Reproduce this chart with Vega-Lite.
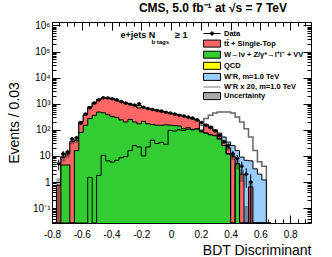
{
"$schema": "https://vega.github.io/schema/vega-lite/v6.json",
"width": 259, "height": 201,
"autosize": {"type": "none"},
"padding": {"left": 52, "top": 22, "right": 21, "bottom": 34},
"background": "white",
"config": {
  "view": {"stroke": "black", "strokeWidth": 1},
  "font": "Liberation Sans",
  "title": {"fontSize": 12, "fontWeight": "bold", "font": "Liberation Sans", "color": "black"},
  "axis": {"grid": false, "domain": false, "tickColor": "black", "labelColor": "black", "titleColor": "black", "labelFont": "Liberation Sans", "titleFont": "Liberation Sans", "labelFontSize": 10, "labelOverlap": false, "labelFlush": false, "tickWidth": 1}
},
"title": {"text": "CMS, 5.0 fb\u207b\u00b9 at \u221as = 7 TeV", "anchor": "end", "frame": "group", "fontSize": 12, "fontWeight": "bold", "font": "Liberation Sans", "offset": 5, "dx": -24, "color": "black"},
"datasets": {
"h": [
{"x0":-0.8,"x1":-0.77,"xc":-0.785,"g":0.001,"n":0.001,"r":0.001,"b":0.001,"d":0,"dl":0,"dh":0,"ul":0,"uh":0},
{"x0":-0.77,"x1":-0.74,"xc":-0.755,"g":0.001,"n":0.001,"r":0.75,"b":0.75,"d":5,"dl":2.8,"dh":7.2,"ul":0.001,"uh":1.4},
{"x0":-0.74,"x1":-0.71,"xc":-0.725,"g":4.5,"n":0.001,"r":9,"b":9,"d":12,"dl":8.5,"dh":15.5,"ul":6,"uh":12},
{"x0":-0.71,"x1":-0.68,"xc":-0.695,"g":4.5,"n":0.001,"r":12,"b":12,"d":14,"dl":10.3,"dh":17.7,"ul":8.5,"uh":15.5},
{"x0":-0.68,"x1":-0.65,"xc":-0.665,"g":0.001,"n":0.001,"r":35,"b":35,"d":45,"dl":38,"dh":52,"ul":28,"uh":42},
{"x0":-0.65,"x1":-0.62,"xc":-0.635,"g":16,"n":0.001,"r":40,"b":40,"d":50,"dl":43,"dh":57,"ul":32,"uh":48},
{"x0":-0.62,"x1":-0.59,"xc":-0.605,"g":80,"n":0.001,"r":200,"b":200,"d":180,"dl":167,"dh":193,"ul":175,"uh":225},
{"x0":-0.59,"x1":-0.56,"xc":-0.575,"g":150,"n":0.001,"r":380,"b":380,"d":400,"dl":380,"dh":420,"ul":340,"uh":420},
{"x0":-0.56,"x1":-0.53,"xc":-0.545,"g":270,"n":1.5,"r":750,"b":750,"d":700,"dl":674,"dh":726,"ul":675,"uh":825},
{"x0":-0.53,"x1":-0.5,"xc":-0.515,"g":360,"n":0.001,"r":1100,"b":1100,"d":1050,"dl":1018,"dh":1082,"ul":990,"uh":1210},
{"x0":-0.5,"x1":-0.47,"xc":-0.485,"g":480,"n":1.8,"r":1450,"b":1450,"d":1400,"dl":1363,"dh":1437,"ul":1305,"uh":1595},
{"x0":-0.47,"x1":-0.44,"xc":-0.455,"g":450,"n":10.5,"r":1650,"b":1650,"d":1700,"dl":1659,"dh":1741,"ul":1485,"uh":1815},
{"x0":-0.44,"x1":-0.41,"xc":-0.425,"g":380,"n":6.5,"r":1700,"b":1700,"d":1650,"dl":1609,"dh":1691,"ul":1530,"uh":1870},
{"x0":-0.41,"x1":-0.38,"xc":-0.395,"g":320,"n":5.8,"r":1550,"b":1550,"d":1550,"dl":1511,"dh":1589,"ul":1395,"uh":1705},
{"x0":-0.38,"x1":-0.35,"xc":-0.365,"g":300,"n":6.8,"r":1350,"b":1350,"d":1400,"dl":1363,"dh":1437,"ul":1215,"uh":1485},
{"x0":-0.35,"x1":-0.32,"xc":-0.335,"g":240,"n":8.6,"r":1200,"b":1200,"d":1200,"dl":1165,"dh":1235,"ul":1080,"uh":1320},
{"x0":-0.32,"x1":-0.29,"xc":-0.305,"g":200,"n":9.5,"r":1080,"b":1080,"d":1050,"dl":1018,"dh":1082,"ul":972,"uh":1188},
{"x0":-0.29,"x1":-0.26,"xc":-0.275,"g":250,"n":16,"r":960,"b":960,"d":950,"dl":919,"dh":981,"ul":864,"uh":1056},
{"x0":-0.26,"x1":-0.23,"xc":-0.245,"g":200,"n":25,"r":870,"b":870,"d":880,"dl":850,"dh":910,"ul":783,"uh":957},
{"x0":-0.23,"x1":-0.2,"xc":-0.215,"g":170,"n":22,"r":700,"q":850,"b":850,"d":1000,"dl":968,"dh":1032,"ul":765,"uh":935},
{"x0":-0.2,"x1":-0.17,"xc":-0.185,"g":210,"n":10,"r":720,"b":720,"d":730,"dl":703,"dh":757,"ul":648,"uh":792},
{"x0":-0.17,"x1":-0.14,"xc":-0.155,"g":170,"n":22,"r":650,"b":650,"d":660,"dl":634,"dh":686,"ul":585,"uh":715},
{"x0":-0.14,"x1":-0.11,"xc":-0.125,"g":160,"n":40,"r":600,"b":600,"d":600,"dl":575,"dh":625,"ul":540,"uh":660},
{"x0":-0.11,"x1":-0.08,"xc":-0.095,"g":150,"n":30,"r":560,"b":560,"d":550,"dl":527,"dh":573,"ul":504,"uh":616},
{"x0":-0.08,"x1":-0.05,"xc":-0.065,"g":150,"n":33,"r":510,"b":510,"d":520,"dl":497,"dh":543,"ul":459,"uh":561},
{"x0":-0.05,"x1":-0.02,"xc":-0.035,"g":155,"n":28,"r":470,"b":470,"d":470,"dl":448,"dh":492,"ul":423,"uh":517},
{"x0":-0.02,"x1":0.01,"xc":-0.005,"g":150,"n":95,"r":430,"b":430,"d":440,"dl":419,"dh":461,"ul":387,"uh":473},
{"x0":0.01,"x1":0.04,"xc":0.025,"g":145,"n":90,"r":400,"b":400,"d":400,"dl":380,"dh":420,"ul":360,"uh":440},
{"x0":0.04,"x1":0.07,"xc":0.055,"g":140,"n":100,"r":370,"b":370,"d":360,"dl":341,"dh":379,"ul":333,"uh":407},
{"x0":0.07,"x1":0.1,"xc":0.085,"g":110,"n":95,"r":340,"b":340,"d":340,"dl":322,"dh":358,"ul":306,"uh":374},
{"x0":0.1,"x1":0.13,"xc":0.115,"g":120,"n":105,"r":300,"b":300,"d":310,"dl":292,"dh":328,"ul":270,"uh":330},
{"x0":0.13,"x1":0.16,"xc":0.145,"g":105,"n":100,"r":270,"b":270,"d":280,"dl":263,"dh":297,"ul":243,"uh":297},
{"x0":0.16,"x1":0.19,"xc":0.175,"g":110,"n":108,"r":230,"b":230,"d":240,"dl":224,"dh":256,"ul":207,"uh":253},
{"x0":0.19,"x1":0.22,"xc":0.205,"g":85,"n":85,"r":90,"b":98,"w":150,"d":190,"dl":176,"dh":204,"ul":81,"uh":99},
{"x0":0.22,"x1":0.25,"xc":0.235,"g":75,"n":75,"r":150,"b":163,"w":270,"d":150,"dl":138,"dh":162,"ul":135,"uh":165},
{"x0":0.25,"x1":0.28,"xc":0.265,"g":65,"n":65,"r":120,"b":138,"w":360,"d":120,"dl":109,"dh":131,"ul":108,"uh":132},
{"x0":0.28,"x1":0.31,"xc":0.295,"g":60,"n":60,"r":95,"b":100,"w":440,"d":90,"dl":80.5,"dh":99.5,"ul":85,"uh":105},
{"x0":0.31,"x1":0.34,"xc":0.325,"g":45,"n":45,"r":65,"b":75,"w":480,"d":60,"dl":52.3,"dh":67.7,"ul":58,"uh":72},
{"x0":0.34,"x1":0.37,"xc":0.355,"g":25,"n":25,"r":35,"b":53,"w":480,"d":35,"dl":29.1,"dh":40.9,"ul":30,"uh":40},
{"x0":0.37,"x1":0.4,"xc":0.385,"g":12,"n":12,"r":20,"b":34,"w":480,"d":25,"dl":20,"dh":30,"ul":16,"uh":24},
{"x0":0.4,"x1":0.43,"xc":0.415,"g":0.001,"n":0.001,"r":10,"b":25,"w":440,"d":12,"dl":8.5,"dh":15.5,"ul":7,"uh":13},
{"x0":0.43,"x1":0.46,"xc":0.445,"g":5,"n":5,"r":5,"b":16,"w":310,"d":8,"dl":5.2,"dh":10.8,"ul":3,"uh":7},
{"x0":0.46,"x1":0.49,"xc":0.475,"g":0.001,"n":0.001,"r":2,"b":9,"w":200,"d":4,"dl":2,"dh":6,"ul":1,"uh":3},
{"x0":0.49,"x1":0.52,"xc":0.505,"g":0.001,"n":0.001,"r":0.001,"b":6.8,"w":110,"d":2,"dl":0.6,"dh":3.4,"ul":0.001,"uh":0.12},
{"x0":0.52,"x1":0.55,"xc":0.535,"g":0.001,"n":0.001,"r":0.65,"b":6.5,"w":53,"d":1,"dl":0.001,"dh":2,"ul":0.001,"uh":1},
{"x0":0.55,"x1":0.58,"xc":0.565,"g":0.001,"n":0.001,"r":0.001,"b":3.2,"w":16,"d":0,"dl":0,"dh":0,"ul":0,"uh":0},
{"x0":0.58,"x1":0.61,"xc":0.595,"g":0.001,"n":0.001,"r":0.001,"b":2,"w":6,"d":0,"dl":0,"dh":0,"ul":0,"uh":0},
{"x0":0.61,"x1":0.64,"xc":0.625,"g":0.001,"n":0.001,"r":0.001,"b":1.2,"w":4,"d":0,"dl":0,"dh":0,"ul":0,"uh":0},
{"x0":0.64,"x1":0.67,"xc":0.655,"g":0.001,"n":0.001,"r":0.001,"b":0.001,"w":0.001,"d":0,"dl":0,"dh":0,"ul":0,"uh":0},
{"x0":0.67,"x1":0.7,"xc":0.685,"g":0.001,"n":0.001,"r":0.001,"b":0.001,"d":0,"dl":0,"dh":0,"ul":0,"uh":0}
],
"leg": [
{"c": "Data"},
{"c": "tt\u0304 + Single-Top"},
{"c": "W\u2192l\u03bd + Z/\u03b3*\u2192l\u207al\u207b + VV"},
{"c": "QCD"},
{"c": "W'R, m=1.0 TeV"},
{"c": "W'R x 20, m=1.0 TeV"},
{"c": "Uncertainty"}
]
},
"layer": [
{
"data": {"name": "h"},
"layer": [
{"transform": [{"filter": "datum.w > 0"}],
 "mark": {"type": "line", "interpolate": "step-after", "color": "#666666", "strokeWidth": 1.5},
 "encoding": {"x": {"field": "x0", "type": "quantitative", "scale": {"domain": [-0.8, 0.94], "nice": false, "zero": false}, "axis": null},
  "y": {"field": "w", "type": "quantitative", "scale": {"type": "log", "domain": [0.027, 1350000], "clamp": true, "nice": false}, "axis": null}}},
{"mark": {"type": "area", "interpolate": "step-after", "color": "#99ccff"},
 "encoding": {"x": {"field": "x0", "type": "quantitative", "scale": {"domain": [-0.8, 0.94], "nice": false, "zero": false}, "axis": null},
  "y": {"field": "b", "type": "quantitative", "scale": {"type": "log", "domain": [0.027, 1350000], "clamp": true, "nice": false}, "axis": null},
  "y2": {"datum": 0.001}}},
{"mark": {"type": "line", "interpolate": "step-after", "color": "black", "strokeWidth": 1},
 "encoding": {"x": {"field": "x0", "type": "quantitative", "scale": {"domain": [-0.8, 0.94], "nice": false, "zero": false}, "axis": null},
  "y": {"field": "b", "type": "quantitative", "scale": {"type": "log", "domain": [0.027, 1350000], "clamp": true, "nice": false}, "axis": null}}},
{"mark": {"type": "area", "interpolate": "step-after", "color": "#ff6666"},
 "encoding": {"x": {"field": "x0", "type": "quantitative", "scale": {"domain": [-0.8, 0.94], "nice": false, "zero": false}, "axis": null},
  "y": {"field": "r", "type": "quantitative", "scale": {"type": "log", "domain": [0.027, 1350000], "clamp": true, "nice": false}, "axis": null},
  "y2": {"datum": 0.001}}},
{"mark": {"type": "line", "interpolate": "step-after", "color": "black", "strokeWidth": 1},
 "encoding": {"x": {"field": "x0", "type": "quantitative", "scale": {"domain": [-0.8, 0.94], "nice": false, "zero": false}, "axis": null},
  "y": {"field": "r", "type": "quantitative", "scale": {"type": "log", "domain": [0.027, 1350000], "clamp": true, "nice": false}, "axis": null}}},
{"transform": [{"filter": "datum.q > 0"}],
 "mark": {"type": "rect", "color": "#ffff00", "stroke": "black", "strokeWidth": 0.8},
 "encoding": {"x": {"field": "x0", "type": "quantitative", "scale": {"domain": [-0.8, 0.94], "nice": false, "zero": false}, "axis": null},
  "x2": {"field": "x1"},
  "y": {"field": "q", "type": "quantitative", "scale": {"type": "log", "domain": [0.027, 1350000], "clamp": true, "nice": false}, "axis": null},
  "y2": {"field": "r"}}},
{"mark": {"type": "area", "interpolate": "step-after", "color": "#33cc33"},
 "encoding": {"x": {"field": "x0", "type": "quantitative", "scale": {"domain": [-0.8, 0.94], "nice": false, "zero": false}, "axis": null},
  "y": {"field": "g", "type": "quantitative", "scale": {"type": "log", "domain": [0.027, 1350000], "clamp": true, "nice": false}, "axis": null},
  "y2": {"datum": 0.001}}},
{"mark": {"type": "line", "interpolate": "step-after", "color": "black", "strokeWidth": 1},
 "encoding": {"x": {"field": "x0", "type": "quantitative", "scale": {"domain": [-0.8, 0.94], "nice": false, "zero": false}, "axis": null},
  "y": {"field": "g", "type": "quantitative", "scale": {"type": "log", "domain": [0.027, 1350000], "clamp": true, "nice": false}, "axis": null}}},
{"mark": {"type": "line", "interpolate": "step-after", "color": "black", "strokeWidth": 1},
 "encoding": {"x": {"field": "x0", "type": "quantitative", "scale": {"domain": [-0.8, 0.94], "nice": false, "zero": false}, "axis": null},
  "y": {"field": "n", "type": "quantitative", "scale": {"type": "log", "domain": [0.027, 1350000], "clamp": true, "nice": false}, "axis": null}}},
{"transform": [{"filter": "datum.uh > 0.01"}],
 "mark": {"type": "rect", "color": "#222222", "opacity": 0.4},
 "encoding": {"x": {"field": "x0", "type": "quantitative", "scale": {"domain": [-0.8, 0.94], "nice": false, "zero": false}, "axis": null},
  "x2": {"field": "x1"},
  "y": {"field": "ul", "type": "quantitative", "scale": {"type": "log", "domain": [0.027, 1350000], "clamp": true, "nice": false}, "axis": null},
  "y2": {"field": "uh"}}},
{"transform": [{"filter": "datum.d > 0"}],
 "mark": {"type": "rule", "color": "black", "strokeWidth": 1},
 "encoding": {"x": {"field": "x0", "type": "quantitative", "scale": {"domain": [-0.8, 0.94], "nice": false, "zero": false}, "axis": null},
  "x2": {"field": "x1"},
  "y": {"field": "d", "type": "quantitative", "scale": {"type": "log", "domain": [0.027, 1350000], "clamp": true, "nice": false}, "axis": null}}},
{"transform": [{"filter": "datum.d > 0"}],
 "mark": {"type": "rule", "color": "black", "strokeWidth": 1},
 "encoding": {"x": {"field": "xc", "type": "quantitative", "scale": {"domain": [-0.8, 0.94], "nice": false, "zero": false}, "axis": null},
  "y": {"field": "dl", "type": "quantitative", "scale": {"type": "log", "domain": [0.027, 1350000], "clamp": true, "nice": false}, "axis": null},
  "y2": {"field": "dh"}}},
{"transform": [{"filter": "datum.d > 0"}],
 "mark": {"type": "point", "filled": true, "color": "black", "size": 13, "opacity": 1},
 "encoding": {"x": {"field": "xc", "type": "quantitative", "scale": {"domain": [-0.8, 0.94], "nice": false, "zero": false}, "axis": null},
  "y": {"field": "d", "type": "quantitative", "scale": {"type": "log", "domain": [0.027, 1350000], "clamp": true, "nice": false}, "axis": null}}},
{"data": {"values": [{"t": "e+jets N"}]},
 "mark": {"type": "text", "align": "left", "baseline": "alphabetic", "fontSize": 9, "fontWeight": "bold", "font": "Liberation Sans", "color": "black"},
 "encoding": {"text": {"field": "t"},
  "x": {"datum": -0.34, "type": "quantitative", "scale": {"domain": [-0.8, 0.94], "nice": false, "zero": false}, "axis": null},
  "y": {"datum": 320000, "type": "quantitative", "scale": {"type": "log", "domain": [0.027, 1350000], "clamp": true, "nice": false}, "axis": null}}},
{"data": {"values": [{"t": "b tags"}]},
 "mark": {"type": "text", "align": "left", "baseline": "alphabetic", "fontSize": 6, "fontWeight": "bold", "font": "Liberation Sans", "color": "black"},
 "encoding": {"text": {"field": "t"},
  "x": {"datum": -0.132, "type": "quantitative", "scale": {"domain": [-0.8, 0.94], "nice": false, "zero": false}, "axis": null},
  "y": {"datum": 200000, "type": "quantitative", "scale": {"type": "log", "domain": [0.027, 1350000], "clamp": true, "nice": false}, "axis": null}}},
{"data": {"values": [{"t": "\u2265 1"}]},
 "mark": {"type": "text", "align": "left", "baseline": "alphabetic", "fontSize": 9, "fontWeight": "bold", "font": "Liberation Sans", "color": "black"},
 "encoding": {"text": {"field": "t"},
  "x": {"datum": 0.026, "type": "quantitative", "scale": {"domain": [-0.8, 0.94], "nice": false, "zero": false}, "axis": null},
  "y": {"datum": 320000, "type": "quantitative", "scale": {"type": "log", "domain": [0.027, 1350000], "clamp": true, "nice": false}, "axis": null}}}
]
},
{
"data": {"name": "leg"},
"mark": {"type": "point", "opacity": 0},
"encoding": {
 "x": {"datum": -0.8, "type": "quantitative", "scale": {"domain": [-0.8, 0.94], "nice": false, "zero": false},
       "axis": {"orient": "bottom", "values": [-0.8,-0.75,-0.7,-0.65,-0.6,-0.55,-0.5,-0.45,-0.4,-0.35,-0.3,-0.25,-0.2,-0.15,-0.1,-0.05,0,0.05,0.1,0.15,0.2,0.25,0.3,0.35,0.4,0.45,0.5,0.55,0.6,0.65,0.7,0.75,0.8,0.85,0.9],
                "labelExpr": "abs(datum.value*5-round(datum.value*5)) < 0.01 ? (abs(datum.value) < 0.001 ? '0' : replace(format(datum.value, '.1f'), '\u2212', '-')) : ''",
                "tickSize": {"condition": {"test": "abs(datum.value*5-round(datum.value*5)) < 0.01", "value": -8}, "value": -4},
                "labelPadding": 14, "title": "BDT Discriminant", "titleAnchor": "end", "titleFontSize": 14, "titleFontWeight": "normal", "titlePadding": 0}},
 "y": {"datum": 1, "type": "quantitative", "scale": {"type": "log", "domain": [0.027, 1350000], "clamp": true, "nice": false},
       "axis": {"orient": "left", "values": [0.03,0.04,0.05,0.06,0.07,0.08,0.09,0.1,0.2,0.3,0.4,0.5,0.6,0.7,0.8,0.9,1,2,3,4,5,6,7,8,9,10,20,30,40,50,60,70,80,90,100,200,300,400,500,600,700,800,900,1000,2000,3000,4000,5000,6000,7000,8000,9000,10000,20000,30000,40000,50000,60000,70000,80000,90000,100000,200000,300000,400000,500000,600000,700000,800000,900000,1000000],
                "labelExpr": "datum.value == 0.1 ? '10\u207b\u00b9' : datum.value == 1 ? '1' : datum.value == 10 ? '10' : datum.value == 100 ? '10\u00b2' : datum.value == 1000 ? '10\u00b3' : datum.value == 10000 ? '10\u2074' : datum.value == 100000 ? '10\u2075' : datum.value == 1000000 ? '10\u2076' : ''",
                "tickSize": {"condition": {"test": "abs(log(datum.value)/LN10 - round(log(datum.value)/LN10)) < 0.001", "value": -8}, "value": -4},
                "labelPadding": 10, "title": "Events / 0.03", "titleFontSize": 14, "titleFontWeight": "normal", "titlePadding": 11}}
}
},
{
"data": {"name": "leg"},
"mark": {"type": "point", "filled": true, "opacity": 0, "strokeWidth": 1},
"encoding": {
 "x": {"datum": -0.8, "type": "quantitative", "scale": {"domain": [-0.8, 0.94], "nice": false, "zero": false},
       "axis": {"orient": "top", "values": [-0.8,-0.75,-0.7,-0.65,-0.6,-0.55,-0.5,-0.45,-0.4,-0.35,-0.3,-0.25,-0.2,-0.15,-0.1,-0.05,0,0.05,0.1,0.15,0.2,0.25,0.3,0.35,0.4,0.45,0.5,0.55,0.6,0.65,0.7,0.75,0.8,0.85,0.9], "labels": false, "title": null,
                "tickSize": {"condition": {"test": "abs(datum.value*5-round(datum.value*5)) < 0.01", "value": -8}, "value": -4}}},
 "y": {"datum": 1, "type": "quantitative", "scale": {"type": "log", "domain": [0.027, 1350000], "clamp": true, "nice": false},
       "axis": {"orient": "right", "values": [0.03,0.04,0.05,0.06,0.07,0.08,0.09,0.1,0.2,0.3,0.4,0.5,0.6,0.7,0.8,0.9,1,2,3,4,5,6,7,8,9,10,20,30,40,50,60,70,80,90,100,200,300,400,500,600,700,800,900,1000,2000,3000,4000,5000,6000,7000,8000,9000,10000,20000,30000,40000,50000,60000,70000,80000,90000,100000,200000,300000,400000,500000,600000,700000,800000,900000,1000000], "labels": false, "title": null,
                "tickSize": {"condition": {"test": "abs(log(datum.value)/LN10 - round(log(datum.value)/LN10)) < 0.001", "value": -8}, "value": -4}}},
 "color": {"field": "c", "type": "nominal",
   "scale": {"domain": ["Data", "tt\u0304 + Single-Top", "W\u2192l\u03bd + Z/\u03b3*\u2192l\u207al\u207b + VV", "QCD", "W'R, m=1.0 TeV", "W'R x 20, m=1.0 TeV", "Uncertainty"],
             "range": ["black", "#ff6666", "#33cc33", "#ffff00", "#99ccff", "#777777", "#aaaaaa"]},
   "legend": {"orient": "none", "legendX": 155.5, "legendY": 7, "title": null, "padding": 0, "symbolSize": 64, "symbolOpacity": 1, "symbolStrokeWidth": 1,
     "labelFont": "Liberation Sans", "labelFontSize": 7.5, "labelFontWeight": "bold", "labelColor": "black", "labelOffset": 7.5, "rowPadding": 0.1, "labelLimit": 200}},
 "shape": {"field": "c", "type": "nominal",
   "scale": {"domain": ["Data", "tt\u0304 + Single-Top", "W\u2192l\u03bd + Z/\u03b3*\u2192l\u207al\u207b + VV", "QCD", "W'R, m=1.0 TeV", "W'R x 20, m=1.0 TeV", "Uncertainty"],
             "range": ["M-2.125,0H2.125M0.4,0A0.4,0.4,0,1,1,-0.4,0A0.4,0.4,0,1,1,0.4,0", "M-2.125,-0.875H2.125V0.875H-2.125Z", "M-2.125,-0.875H2.125V0.875H-2.125Z", "M-2.125,-0.875H2.125V0.875H-2.125Z", "M-2.125,-0.875H2.125V0.875H-2.125Z", "M-2.125,0H2.125", "M-2.125,-0.875H2.125V0.875H-2.125Z"]},
   "legend": {"orient": "none", "legendX": 155.5, "legendY": 7, "title": null, "padding": 0, "symbolSize": 64, "symbolOpacity": 1, "symbolStrokeWidth": 1,
     "labelFont": "Liberation Sans", "labelFontSize": 7.5, "labelFontWeight": "bold", "labelColor": "black", "labelOffset": 7.5, "rowPadding": 0.1, "labelLimit": 200}},
 "stroke": {"field": "c", "type": "nominal",
   "scale": {"domain": ["Data", "tt\u0304 + Single-Top", "W\u2192l\u03bd + Z/\u03b3*\u2192l\u207al\u207b + VV", "QCD", "W'R, m=1.0 TeV", "W'R x 20, m=1.0 TeV", "Uncertainty"],
             "range": ["black", "black", "black", "black", "black", "#777777", "black"]},
   "legend": {"orient": "none", "legendX": 155.5, "legendY": 7, "title": null, "padding": 0, "symbolSize": 64, "symbolOpacity": 1, "symbolStrokeWidth": 1,
     "labelFont": "Liberation Sans", "labelFontSize": 7.5, "labelFontWeight": "bold", "labelColor": "black", "labelOffset": 7.5, "rowPadding": 0.1, "labelLimit": 200}}
}
}
],
"resolve": {"scale": {"x": "independent", "y": "independent", "color": "independent", "shape": "independent", "stroke": "independent"}, "axis": {"x": "independent", "y": "independent"}}
}
